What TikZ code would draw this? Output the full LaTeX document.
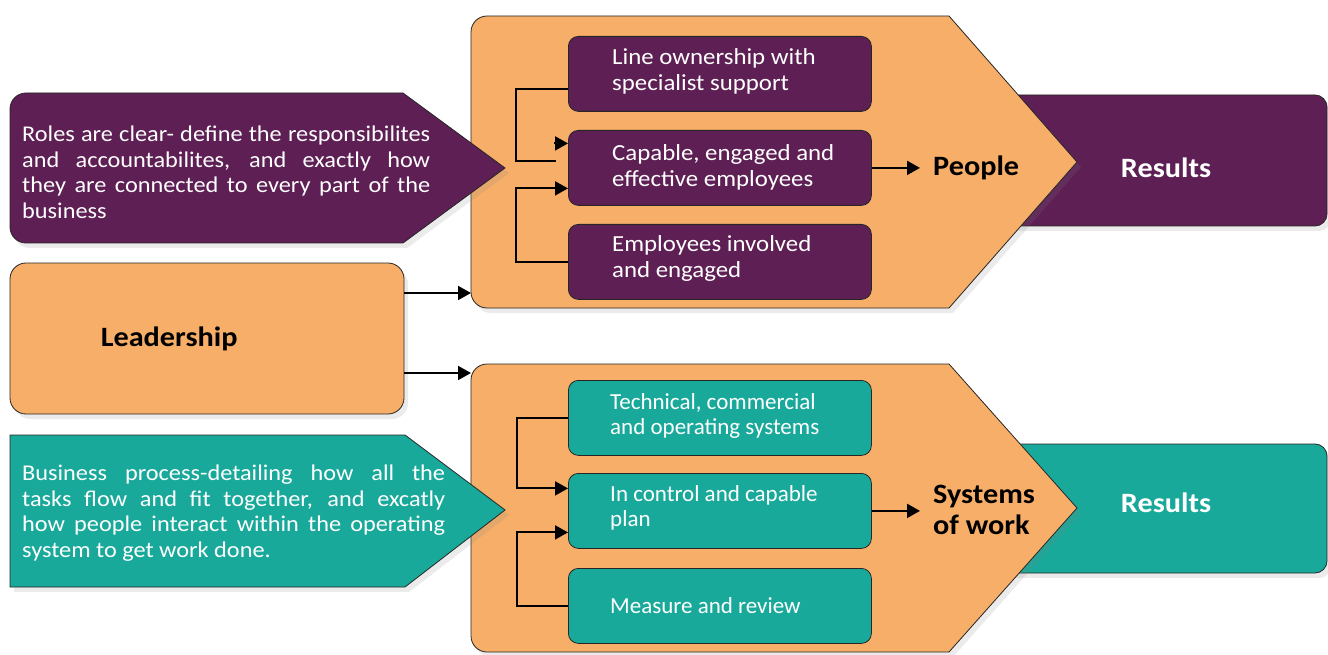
\documentclass[tikz,border=0pt]{standalone}
\usepackage{fontspec}
\setmainfont[FakeStretch=1.08]{Carlito}
\newfontfamily\narrowfont{Carlito}
\usetikzlibrary{positioning,arrows.meta,shadows}

\definecolor{plum}{HTML}{5E1F54}
\definecolor{apricot}{HTML}{F6AE68}
\definecolor{jade}{HTML}{19A99B}

\tikzset{
  edged/.style={draw=black!85, line width=0.8pt},
  softshadow/.style={drop shadow={opacity=0.16, shadow xshift=4pt, shadow yshift=-5pt}},
  inbox/.style={edged, rounded corners=10pt, minimum width=303pt, minimum height=75pt,
    anchor=north west, inner sep=0pt},
  intext/.style={text=white, align=left, inner sep=0pt, font=\fontsize{23}{26}\selectfont},
  calltext/.style={text=white, align=justify, inner sep=0pt, anchor=north west,
    font=\fontsize{22.5}{25.5}\selectfont},
  bigtext/.style={inner sep=0pt, font=\fontsize{28}{31}\selectfont\bfseries},
  link/.style={line width=2pt},
  arrow/.style={link, -{Triangle[length=13pt,width=14pt]}}
}

\begin{document}
\begin{tikzpicture}[x=1pt, y=-1pt]
  \useasboundingbox (0,0) rectangle (1328,655);

  % results bars behind the arrows
  \filldraw[edged, fill=plum, rounded corners=12pt, softshadow] (990,95) rectangle (1327,226);
  \filldraw[edged, fill=jade, rounded corners=12pt, softshadow] (990,444) rectangle (1327,573);
  \node[bigtext, text=white] (res1) at (1166,168) {Results};
  \node[bigtext, text=white] (res2) at (1166,503) {Results};

  % the two big arrows
  \filldraw[edged, fill=apricot, softshadow] (949,16) -- (1077,162) -- (949,308) -- (700,308)
    [rounded corners=16pt] -- (471,308) -- (471,16) -- (700,16) [sharp corners] -- cycle;
  \filldraw[edged, fill=apricot, softshadow] (949,364) -- (1077,508) -- (949,652) -- (700,652)
    [rounded corners=16pt] -- (471,652) -- (471,364) -- (700,364) [sharp corners] -- cycle;
  \coordinate (upin) at (471,293);
  \coordinate (lowin) at (471,373);

  % people
  \node[inbox, fill=plum] (own) at (568,36) {};
  \node[inbox, fill=plum] (capable) at (568,130) {};
  \node[inbox, fill=plum] (involved) at (568,224) {};
  \node[intext, anchor=west, right=44pt of own.west, yshift=3pt] (ownt)
    {Line ownership with\\specialist support};
  \node[intext, anchor=west, right=44pt of capable.west, yshift=1pt] (capablet)
    {Capable, engaged and\\effective employees};
  \node[intext, anchor=west, right=44pt of involved.west, yshift=3pt] (involvedt)
    {Employees involved\\and engaged};
  \node[bigtext, anchor=west] (people) at (933,168) {People};

  \draw[link] ([yshift=-15pt]own.west) -- ++(-52pt,0) |- ([xshift=-12pt,yshift=6.5pt]capable.west);
  \draw[arrow] ([xshift=-14pt,yshift=24.5pt]capable.west) -- ([yshift=24.5pt]capable.west);
  \draw[arrow] (involved.west) -- ++(-52pt,0) |- ([yshift=-20.5pt]capable.west);
  \draw[arrow] (capable.east) -- ([xshift=-13pt]capable.east -| people.west);

  % systems of work
  \node[inbox, fill=jade] (tech) at (568,380) {};
  \node[inbox, fill=jade] (control) at (568,473) {};
  \node[inbox, fill=jade] (measure) at (568,568) {};
  \node[intext, anchor=west, right=42pt of tech.west, yshift=2pt, font=\fontsize{23}{25}\narrowfont] (techt)
    {Technical, commercial\\and operating systems};
  \node[intext, anchor=west, right=42pt of control.west, yshift=3pt, font=\fontsize{23}{25}\narrowfont] (controlt)
    {In control and capable\\plan};
  \node[intext, anchor=west, right=42pt of measure.west, font=\fontsize{23}{25}\narrowfont] (measuret)
    {Measure and review};
  \node[bigtext, anchor=west, align=left] (systems) at (933,510) {Systems\\of work};

  \draw[arrow] (tech.west) -- ++(-51pt,0) |- ([yshift=22.5pt]control.west);
  \draw[arrow] (measure.west) -- ++(-51pt,0) |- ([yshift=-21.5pt]control.west);
  \draw[arrow] (control.east) -- ([xshift=-13pt]control.east -| systems.west);

  % left hand side
  \filldraw[edged, fill=plum, softshadow] (403,93) -- (505,168) -- (403,243) -- (200,243)
    [rounded corners=16pt] -- (10,243) -- (10,93) -- (200,93) [sharp corners] -- cycle;
  \node[calltext, text width=408pt] (roles) at (22,126)
    {Roles are clear- define the responsibilites\linebreak and accountabilites, and exactly how\linebreak
     they are connected to every part of the\linebreak business};

  \node[edged, fill=apricot, rounded corners=16pt, minimum width=394pt, minimum height=151pt,
    softshadow] (lead) at (207,338.5) {};
  \node[bigtext, anchor=west, right=91pt of lead.west] (leadt) {Leadership};
  \draw[arrow] ([yshift=45.5pt]lead.east) -- (upin);
  \draw[arrow] ([yshift=-34.5pt]lead.east) -- (lowin);

  \filldraw[edged, fill=jade, softshadow] (405,435) -- (505,510) -- (405,587) -- (10,587)
    -- (10,435) -- cycle;
  \node[calltext, text width=423pt] (process) at (22,465)
    {Business process-detailing how all the\linebreak tasks flow and fit together, and excatly\linebreak
     how people interact within the operating\linebreak system to get work done.};
\end{tikzpicture}
\end{document}
